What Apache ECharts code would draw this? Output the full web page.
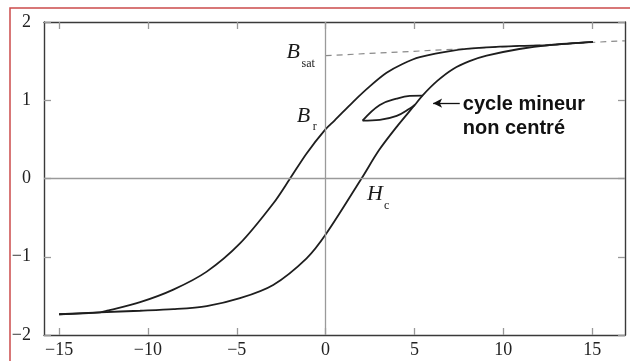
<!DOCTYPE html>
<html>
<head>
<meta charset="utf-8">
<style>
  html, body { margin: 0; padding: 0; background: #fff; }
  #chart { width: 630px; height: 361px; }
</style>
<script src="https://cdn.jsdelivr.net/npm/echarts@6/dist/echarts.min.js"></script>
</head>
<body>
<div id="chart"></div>
<script>
// Hysteresis loop B(H): descending and ascending branches, plus a minor loop
const xTicks = [-15, -10, -5, 0, 5, 10, 15];
const yTicks = [-2, -1, 0, 1, 2];

// descending branch (from +saturation to -saturation)
const descendingBranch = [
  [15.05, 1.745], [12.6, 1.705], [10.9, 1.695], [9.06, 1.675], [7.17, 1.635],
  [5.3, 1.55], [4.3, 1.46], [3.43, 1.35], [2.5, 1.18], [1.55, 0.98],
  [0.5, 0.74], [0, 0.63], [-1.07, 0.32], [-2.0, 0.0], [-2.95, -0.32],
  [-4.82, -0.83], [-6.69, -1.19], [-8.57, -1.42], [-10.44, -1.58],
  [-12.3, -1.69], [-12.69, -1.71], [-15, -1.735]
];
// ascending branch (from -saturation to +saturation)
const ascendingBranch = [
  [-15, -1.735], [-12.69, -1.71], [-10.44, -1.69], [-8.57, -1.67], [-6.69, -1.63],
  [-4.82, -1.53], [-2.95, -1.36], [-1.07, -1.02], [0.05, -0.70], [2.02, 0.0],
  [3.0, 0.36], [4.0, 0.66], [5.02, 0.94], [5.45, 1.06], [6.3, 1.25],
  [7.18, 1.40], [8.1, 1.50], [9.06, 1.57], [10.9, 1.655], [12.6, 1.705], [15.05, 1.745]
];
// minor loop, off-centre: upper edge and lower edge
const minorUpper = [[5.45, 1.06], [4.74, 1.056], [4.0, 1.02], [3.05, 0.94], [2.08, 0.74]];
const minorLower = [[2.08, 0.74], [3.05, 0.75], [4.0, 0.80], [4.74, 0.895], [5.02, 0.94]];
// saturation asymptote
const satLine = [[0, 1.57], [16.85, 1.76]];

const minus = v => String(v).replace('-', '\u2212');
const serif = 'Liberation Serif';
const curveStyle = { color: '#1e1e1e', width: 1.8 };

const chart = echarts.init(document.getElementById('chart'), null, { renderer: 'canvas' });

const axisTickStyle = { show: true, inside: true, length: 7, lineStyle: { color: '#999', width: 1.3 } };
const frameLine = { show: true, onZero: false, lineStyle: { color: '#3a3a3a', width: 1.4 } };

chart.setOption({
  animation: false,
  backgroundColor: '#fff',
  grid: { left: 44, top: 22, right: 5, bottom: 26 },
  xAxis: [
    {
      type: 'value', min: -15.85, max: 16.85, position: 'bottom',
      axisLine: frameLine,
      axisTick: Object.assign({ customValues: xTicks }, axisTickStyle),
      axisLabel: { customValues: xTicks, formatter: minus, fontFamily: serif, fontSize: 18, color: '#222', margin: 6 },
      splitLine: { show: false }
    },
    {
      type: 'value', min: -15.85, max: 16.85, position: 'top',
      axisLine: frameLine,
      axisTick: Object.assign({ customValues: xTicks }, axisTickStyle),
      axisLabel: { show: false },
      splitLine: { show: false }
    }
  ],
  yAxis: [
    {
      type: 'value', min: -2, max: 2, position: 'left',
      axisLine: frameLine,
      axisTick: Object.assign({ customValues: yTicks }, axisTickStyle),
      axisLabel: { customValues: yTicks, formatter: minus, fontFamily: serif, fontSize: 18, color: '#222', margin: 13 },
      splitLine: { show: false }
    },
    {
      type: 'value', min: -2, max: 2, position: 'right',
      axisLine: frameLine,
      axisTick: Object.assign({ customValues: yTicks }, axisTickStyle),
      axisLabel: { show: false },
      splitLine: { show: false }
    }
  ],
  series: [
    {
      type: 'line', data: satLine, symbol: 'none', z: 1,
      lineStyle: { color: '#8a8a8a', width: 1.2, type: [6, 5] },
      markLine: {
        silent: true, symbol: 'none', label: { show: false },
        lineStyle: { color: '#9a9a9a', width: 1.3, type: 'solid' },
        data: [{ xAxis: 0 }, { yAxis: 0 }]
      }
    },
    { type: 'line', data: descendingBranch, symbol: 'none', smooth: 0.3, lineStyle: curveStyle, z: 3 },
    { type: 'line', data: ascendingBranch, symbol: 'none', smooth: 0.3, lineStyle: curveStyle, z: 3 },
    { type: 'line', data: minorUpper, symbol: 'none', smooth: 0.4, lineStyle: curveStyle, z: 3 },
    { type: 'line', data: minorLower, symbol: 'none', smooth: 0.4, lineStyle: curveStyle, z: 3 },
    {
      type: 'line', data: [], symbol: 'none',
      markLine: {
        silent: true, symbol: ['none', 'arrow'], symbolSize: [7, 9], label: { show: false },
        lineStyle: { color: '#111', width: 1.3, type: 'solid' },
        data: [[{ coord: [7.55, 0.963] }, { coord: [6.05, 0.963] }]]
      }
    }
  ]
});

// annotation texts placed at data coordinates
function px(x, y) { return chart.convertToPixel({ xAxisIndex: 0, yAxisIndex: 0 }, [x, y]); }
function symText(x, y, main, sub, subDx, subDy) {
  const p = px(x, y);
  return [
    { type: 'text', x: p[0], y: p[1], z: 10,
      style: { text: main, font: 'italic 22px "Liberation Serif"', fill: '#1a1a1a', align: 'left', verticalAlign: 'middle' } },
    { type: 'text', x: p[0] + subDx, y: p[1] + subDy, z: 10,
      style: { text: sub, font: '12px "Liberation Serif"', fill: '#1a1a1a', align: 'left', verticalAlign: 'middle' } }
  ];
}
const pLine1 = px(7.72, 0.95);
const pLine2 = px(7.72, 0.64);
chart.setOption({
  graphic: [
    { type: 'rect', shape: { x: 10, y: 8, width: 640, height: 380 }, z: 20, silent: true,
      style: { fill: 'none', stroke: '#cc4b4b', lineWidth: 1.5 } },
    ...symText(-2.2, 1.61, 'B', 'sat', 15, 11),
    ...symText(-1.62, 0.8, 'B', 'r', 16, 11),
    ...symText(2.33, -0.2, 'H', 'c', 17, 12),
    { type: 'text', x: pLine1[0], y: pLine1[1], z: 10,
      style: { text: 'cycle mineur', font: 'bold 20px "Liberation Sans"', fill: '#111', align: 'left', verticalAlign: 'middle' } },
    { type: 'text', x: pLine2[0], y: pLine2[1], z: 10,
      style: { text: 'non centré', font: 'bold 20px "Liberation Sans"', fill: '#111', align: 'left', verticalAlign: 'middle' } }
  ]
});
</script>
</body>
</html>
